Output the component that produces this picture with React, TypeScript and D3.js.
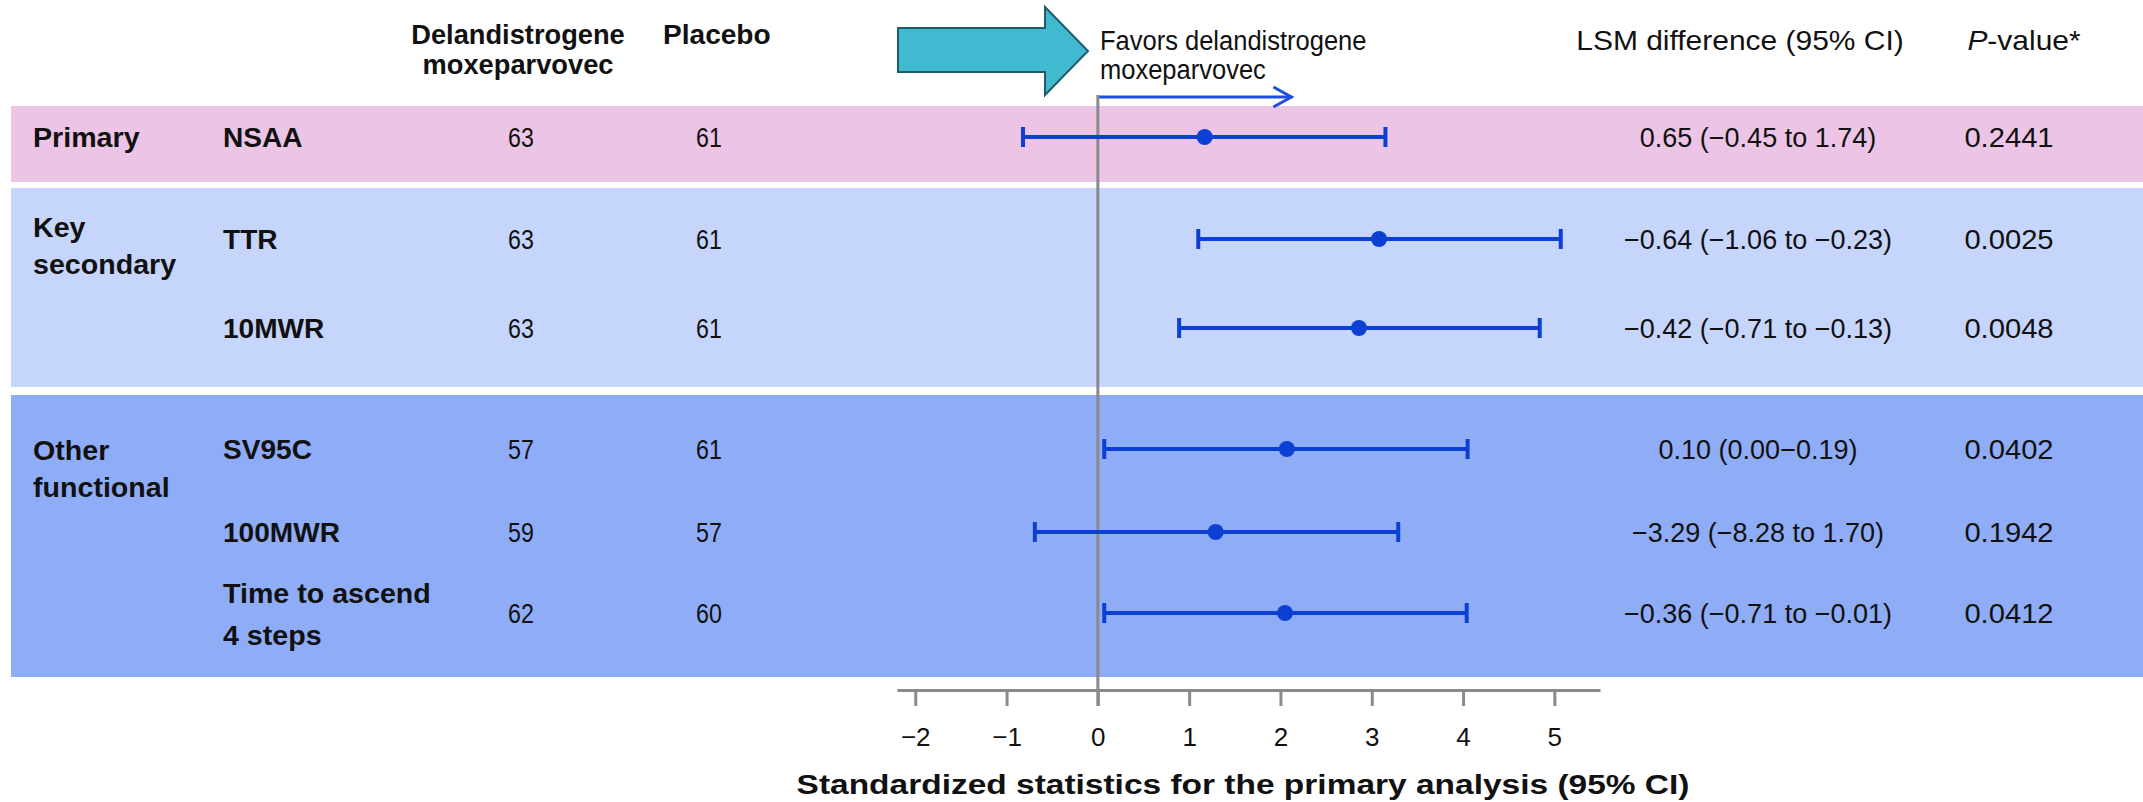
import React, { useEffect, useRef } from "react";
import * as d3 from "d3";

// data
const outcomes = ["NSAA", "TTR", "10MWR", "SV95C", "100MWR", "Time to ascend\n4 steps"];
const groupLabels = ["Primary", "Key\nsecondary", "Other\nfunctional"];
const nTreatment = [63, 63, 63, 57, 59, 62];
const nPlacebo = [61, 61, 61, 61, 57, 60];
const estimate = [1.17, 3.08, 2.86, 2.07, 1.29, 2.05];
const ciLower = [-0.82, 1.1, 0.89, 0.07, -0.69, 0.07];
const ciUpper = [3.15, 5.07, 4.84, 4.05, 3.29, 4.04];
const lsmDiff = [
  "0.65 (\u22120.45 to 1.74)",
  "\u22120.64 (\u22121.06 to \u22120.23)",
  "\u22120.42 (\u22120.71 to \u22120.13)",
  "0.10 (0.00\u22120.19)",
  "\u22123.29 (\u22128.28 to 1.70)",
  "\u22120.36 (\u22120.71 to \u22120.01)",
];
const pValues = ["0.2441", "0.0025", "0.0048", "0.0402", "0.1942", "0.0412"];
const tickValues = [-2, -1, 0, 1, 2, 3, 4, 5];

// layout
const W = 2143, H = 802;
const rowY = [137, 239, 328, 449, 532, 613];
const bands = [
  { top: 106, bottom: 182, fill: "#ecc4e6", labelY: [147] },
  { top: 188, bottom: 387, fill: "#c6d5fb", labelY: [237, 274] },
  { top: 395, bottom: 677, fill: "#8facf6", labelY: [460, 497] },
];
const FONT = "'Liberation Sans', Arial, sans-serif";
const BLUE = "#0c40d2";
const GREY = "#8a8a8a";

function addText(g, str, x, y, opt) {
  const o = Object.assign({ size: 26, weight: "normal", sx: 1, anchor: "start", fill: "#111" }, opt);
  return g.append("text")
    .attr("transform", `translate(${x},${y}) scale(${o.sx},1)`)
    .attr("text-anchor", o.anchor)
    .style("font-family", FONT)
    .style("font-size", o.size + "px")
    .style("font-weight", o.weight)
    .attr("fill", o.fill)
    .text(str);
}

export default function App() {
  const ref = useRef(null);

  useEffect(() => {
    const svg = d3.select(ref.current);
    svg.selectAll("*").remove();

    const x = d3.scaleLinear().domain([-2.2, 5.5]).range([897, 1600]);

    // bands
    svg.selectAll(".band").data(bands).enter().append("rect")
      .attr("x", 11).attr("y", d => d.top)
      .attr("width", W - 11).attr("height", d => d.bottom - d.top)
      .attr("fill", d => d.fill);

    // header texts
    addText(svg, "Delandistrogene", 518, 44, { size: 27, weight: "bold", sx: 1.01, anchor: "middle" });
    addText(svg, "moxeparvovec", 518, 74, { size: 27, weight: "bold", sx: 1.01, anchor: "middle" });
    addText(svg, "Placebo", 663, 44, { size: 27, weight: "bold", sx: 1.04 });
    addText(svg, "LSM difference (95% CI)", 1740, 50, { size: 27, sx: 1.11, anchor: "middle" });
    const pv = svg.append("text")
      .attr("transform", `translate(2024,50) scale(1.11,1)`)
      .attr("text-anchor", "middle")
      .style("font-family", FONT).style("font-size", "27px").attr("fill", "#111");
    pv.append("tspan").style("font-style", "italic").text("P");
    pv.append("tspan").text("-value*");

    // big cyan arrow
    svg.append("polygon")
      .attr("points", "898,28 1045,28 1045,7 1088,51 1045,95 1045,72 898,72")
      .attr("fill", "#40b9d1").attr("stroke", "#1f5e69").attr("stroke-width", 2);
    addText(svg, "Favors delandistrogene", 1100, 50, { size: 27, sx: 0.945 });
    addText(svg, "moxeparvovec", 1100, 79, { size: 27, sx: 0.945 });

    // small direction arrow
    const ay = 97;
    svg.append("line").attr("x1", x(0)).attr("x2", x(2.12)).attr("y1", ay).attr("y2", ay)
      .attr("stroke", "#1d4fdc").attr("stroke-width", 3);
    svg.append("path")
      .attr("d", `M${x(2.12) - 18},${ay - 10} L${x(2.12)},${ay} L${x(2.12) - 18},${ay + 10}`)
      .attr("fill", "none").attr("stroke", "#1d4fdc").attr("stroke-width", 3);

    // group labels
    groupLabels.forEach((lab, gi) => {
      lab.split("\n").forEach((line, li) => {
        addText(svg, line, 33, bands[gi].labelY[li], { size: 27, weight: "bold", sx: 1.06 });
      });
    });

    // row texts
    outcomes.forEach((lab, i) => {
      const lines = lab.split("\n");
      if (lines.length === 1) {
        addText(svg, lab, 223, rowY[i] + 10, { size: 27, weight: "bold", sx: 1.04 });
      } else {
        lines.forEach((line, li) => {
          addText(svg, line, 223, rowY[i] - 10 + li * 42, { size: 27, weight: "bold", sx: 1.06 });
        });
      }
      addText(svg, String(nTreatment[i]), 521, rowY[i] + 10, { size: 27, sx: 0.86, anchor: "middle" });
      addText(svg, String(nPlacebo[i]), 709, rowY[i] + 10, { size: 27, sx: 0.86, anchor: "middle" });
      addText(svg, lsmDiff[i], 1758, rowY[i] + 10, { size: 27, sx: 1.0, anchor: "middle" });
      addText(svg, pValues[i], 2009, rowY[i] + 10, { size: 27, sx: 1.08, anchor: "middle" });
    });

    // axis
    const axis = d3.axisBottom(x).tickValues(tickValues).tickSize(16).tickSizeOuter(0)
      .tickFormat(d => (d < 0 ? "\u2212" + Math.abs(d) : String(d)));
    const ag = svg.append("g").attr("transform", "translate(0,690)").call(axis);
    ag.select(".domain").attr("stroke", GREY).attr("stroke-width", 3);
    ag.selectAll(".tick line").attr("stroke", GREY).attr("stroke-width", 3);
    ag.selectAll(".tick text")
      .attr("y", 56).attr("dy", null)
      .attr("fill", "#111")
      .style("font-family", FONT).style("font-size", "26px");

    // zero line
    svg.append("line").attr("x1", x(0)).attr("x2", x(0)).attr("y1", 95).attr("y2", 706)
      .attr("stroke", GREY).attr("stroke-width", 3);

    addText(svg, "Standardized statistics for the primary analysis (95% CI)", 1243, 794,
      { size: 27, weight: "bold", sx: 1.24, anchor: "middle" });

    // error bars
    const rows = outcomes.map((o, i) => ({ est: estimate[i], lo: ciLower[i], hi: ciUpper[i], y: rowY[i] }));
    const eb = svg.selectAll(".eb").data(rows).enter().append("g");
    eb.append("line")
      .attr("x1", d => x(d.lo)).attr("x2", d => x(d.hi))
      .attr("y1", d => d.y).attr("y2", d => d.y)
      .attr("stroke", BLUE).attr("stroke-width", 4);
    eb.append("line")
      .attr("x1", d => x(d.lo)).attr("x2", d => x(d.lo))
      .attr("y1", d => d.y - 10).attr("y2", d => d.y + 10)
      .attr("stroke", BLUE).attr("stroke-width", 4);
    eb.append("line")
      .attr("x1", d => x(d.hi)).attr("x2", d => x(d.hi))
      .attr("y1", d => d.y - 10).attr("y2", d => d.y + 10)
      .attr("stroke", BLUE).attr("stroke-width", 4);
    eb.append("circle")
      .attr("cx", d => x(d.est)).attr("cy", d => d.y).attr("r", 8)
      .attr("fill", BLUE);
  }, []);

  return (
    <svg ref={ref} width={W} height={H}
      style={{ position: "absolute", left: 0, top: 0, background: "#fff" }} />
  );
}
